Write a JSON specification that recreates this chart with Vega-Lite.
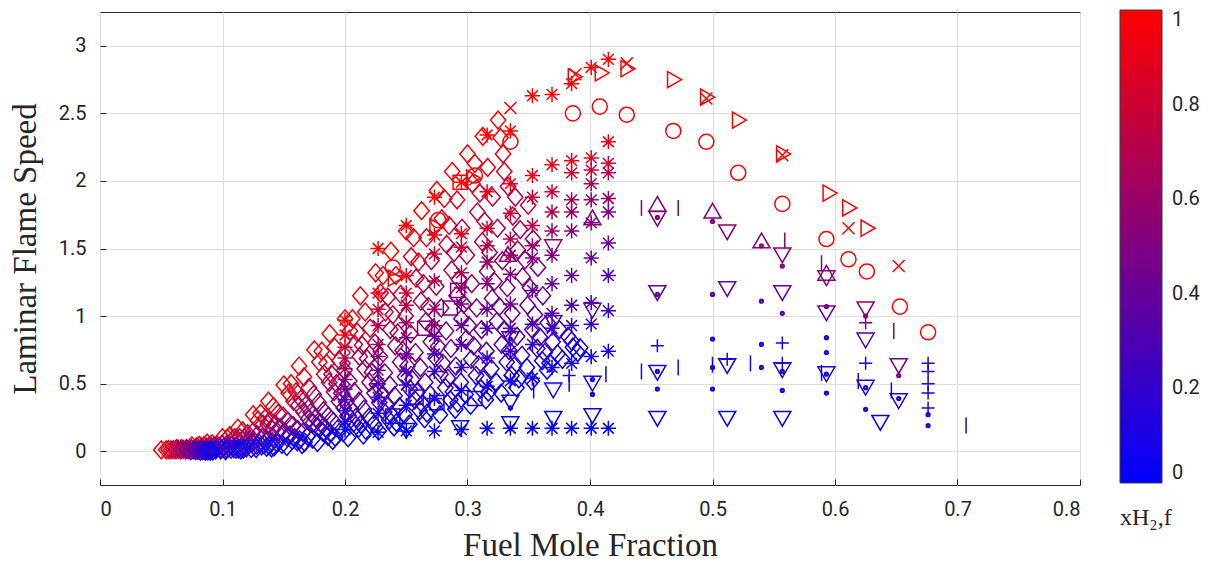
{
"$schema":"https://vega.github.io/schema/vega-lite/v6.json",
"width":980,"height":473,
"autosize":{"type":"none"},
"padding":{"left":100,"top":12,"right":133,"bottom":78},
"background":"white",
"config":{"view":{"stroke":"#262626","strokeWidth":1}},
"datasets":{
"dia":[
{"x":0.05,"y":0.01,"h":1},{"x":0.0625,"y":0.02,"h":1},{"x":0.075,"y":0.04,"h":1},{"x":0.0875,"y":0.06,"h":1},{"x":0.1,"y":0.1,"h":1},{"x":0.1125,"y":0.17,"h":1},{"x":0.125,"y":0.27,"h":1},{"x":0.1375,"y":0.37,"h":1},{"x":0.15,"y":0.49,"h":1},{"x":0.1625,"y":0.63,"h":1},{"x":0.175,"y":0.75,"h":1},{"x":0.1875,"y":0.87,"h":1},{"x":0.2,"y":0.98,"h":1},{"x":0.2125,"y":1.15,"h":1},{"x":0.225,"y":1.32,"h":1},{"x":0.2375,"y":1.48,"h":1},{"x":0.25,"y":1.63,"h":1},{"x":0.2625,"y":1.78,"h":1},{"x":0.275,"y":1.93,"h":1},{"x":0.2875,"y":2.07,"h":1},{"x":0.3,"y":2.2,"h":1},{"x":0.3125,"y":2.33,"h":1},{"x":0.325,"y":2.45,"h":1},
{"x":0.056,"y":0.012,"h":0.95},{"x":0.081,"y":0.044,"h":0.95},{"x":0.106,"y":0.115,"h":0.95},{"x":0.131,"y":0.28,"h":0.95},{"x":0.156,"y":0.5,"h":0.95},{"x":0.181,"y":0.74,"h":0.95},{"x":0.206,"y":0.98,"h":0.95},{"x":0.231,"y":1.3,"h":0.95},{"x":0.256,"y":1.58,"h":0.95},{"x":0.281,"y":1.87,"h":0.95},{"x":0.306,"y":2.13,"h":0.95},{"x":0.327,"y":2.32,"h":0.95},
{"x":0.054,"y":0.01,"h":0.9},{"x":0.0665,"y":0.02,"h":0.9},{"x":0.079,"y":0.035,"h":0.9},{"x":0.0915,"y":0.055,"h":0.9},{"x":0.104,"y":0.095,"h":0.9},{"x":0.1165,"y":0.15,"h":0.9},{"x":0.129,"y":0.23,"h":0.9},{"x":0.1415,"y":0.33,"h":0.9},{"x":0.154,"y":0.43,"h":0.9},{"x":0.1665,"y":0.55,"h":0.9},{"x":0.179,"y":0.66,"h":0.9},{"x":0.1915,"y":0.77,"h":0.9},{"x":0.204,"y":0.89,"h":0.9},{"x":0.2165,"y":1.03,"h":0.9},{"x":0.229,"y":1.17,"h":0.9},{"x":0.2415,"y":1.3,"h":0.9},{"x":0.254,"y":1.44,"h":0.9},{"x":0.2665,"y":1.58,"h":0.9},{"x":0.279,"y":1.72,"h":0.9},{"x":0.2915,"y":1.86,"h":0.9},{"x":0.304,"y":1.98,"h":0.9},{"x":0.3165,"y":2.1,"h":0.9},{"x":0.329,"y":2.2,"h":0.9},
{"x":0.06,"y":0.012,"h":0.85},{"x":0.085,"y":0.039,"h":0.85},{"x":0.11,"y":0.1,"h":0.85},{"x":0.135,"y":0.245,"h":0.85},{"x":0.16,"y":0.44,"h":0.85},{"x":0.185,"y":0.65,"h":0.85},{"x":0.21,"y":0.88,"h":0.85},{"x":0.235,"y":1.14,"h":0.85},{"x":0.26,"y":1.4,"h":0.85},{"x":0.285,"y":1.67,"h":0.85},{"x":0.31,"y":1.91,"h":0.85},{"x":0.33,"y":2.07,"h":0.85},
{"x":0.058,"y":0.01,"h":0.8},{"x":0.0705,"y":0.02,"h":0.8},{"x":0.083,"y":0.03,"h":0.8},{"x":0.0955,"y":0.045,"h":0.8},{"x":0.108,"y":0.08,"h":0.8},{"x":0.1205,"y":0.13,"h":0.8},{"x":0.133,"y":0.2,"h":0.8},{"x":0.1455,"y":0.28,"h":0.8},{"x":0.158,"y":0.37,"h":0.8},{"x":0.1705,"y":0.47,"h":0.8},{"x":0.183,"y":0.57,"h":0.8},{"x":0.1955,"y":0.67,"h":0.8},{"x":0.208,"y":0.79,"h":0.8},{"x":0.2205,"y":0.91,"h":0.8},{"x":0.233,"y":1.03,"h":0.8},{"x":0.2455,"y":1.16,"h":0.8},{"x":0.258,"y":1.28,"h":0.8},{"x":0.2705,"y":1.41,"h":0.8},{"x":0.283,"y":1.53,"h":0.8},{"x":0.2955,"y":1.65,"h":0.8},{"x":0.308,"y":1.77,"h":0.8},{"x":0.3205,"y":1.88,"h":0.8},{"x":0.333,"y":1.96,"h":0.8},
{"x":0.064,"y":0.013,"h":0.75},{"x":0.089,"y":0.035,"h":0.75},{"x":0.114,"y":0.1,"h":0.75},{"x":0.139,"y":0.225,"h":0.75},{"x":0.164,"y":0.385,"h":0.75},{"x":0.189,"y":0.57,"h":0.75},{"x":0.214,"y":0.785,"h":0.75},{"x":0.239,"y":1.01,"h":0.75},{"x":0.264,"y":1.24,"h":0.75},{"x":0.289,"y":1.47,"h":0.75},{"x":0.314,"y":1.7,"h":0.75},{"x":0.339,"y":1.88,"h":0.75},
{"x":0.062,"y":0.01,"h":0.7},{"x":0.0745,"y":0.02,"h":0.7},{"x":0.087,"y":0.03,"h":0.7},{"x":0.0995,"y":0.05,"h":0.7},{"x":0.112,"y":0.09,"h":0.7},{"x":0.1245,"y":0.14,"h":0.7},{"x":0.137,"y":0.2,"h":0.7},{"x":0.1495,"y":0.26,"h":0.7},{"x":0.162,"y":0.34,"h":0.7},{"x":0.1745,"y":0.42,"h":0.7},{"x":0.187,"y":0.51,"h":0.7},{"x":0.1995,"y":0.6,"h":0.7},{"x":0.212,"y":0.7,"h":0.7},{"x":0.2245,"y":0.8,"h":0.7},{"x":0.237,"y":0.9,"h":0.7},{"x":0.2495,"y":1.0,"h":0.7},{"x":0.262,"y":1.11,"h":0.7},{"x":0.2745,"y":1.22,"h":0.7},{"x":0.287,"y":1.34,"h":0.7},{"x":0.2995,"y":1.45,"h":0.7},{"x":0.312,"y":1.55,"h":0.7},{"x":0.3245,"y":1.65,"h":0.7},{"x":0.337,"y":1.74,"h":0.7},{"x":0.3495,"y":1.82,"h":0.7},
{"x":0.068,"y":0.013,"h":0.65},{"x":0.093,"y":0.036,"h":0.65},{"x":0.118,"y":0.1,"h":0.65},{"x":0.143,"y":0.2,"h":0.65},{"x":0.168,"y":0.34,"h":0.65},{"x":0.193,"y":0.5,"h":0.65},{"x":0.218,"y":0.685,"h":0.65},{"x":0.243,"y":0.875,"h":0.65},{"x":0.268,"y":1.07,"h":0.65},{"x":0.293,"y":1.27,"h":0.65},{"x":0.318,"y":1.47,"h":0.65},{"x":0.343,"y":1.64,"h":0.65},
{"x":0.066,"y":0.01,"h":0.6},{"x":0.0785,"y":0.02,"h":0.6},{"x":0.091,"y":0.03,"h":0.6},{"x":0.1035,"y":0.05,"h":0.6},{"x":0.116,"y":0.08,"h":0.6},{"x":0.1285,"y":0.12,"h":0.6},{"x":0.141,"y":0.16,"h":0.6},{"x":0.1535,"y":0.22,"h":0.6},{"x":0.166,"y":0.29,"h":0.6},{"x":0.1785,"y":0.36,"h":0.6},{"x":0.191,"y":0.44,"h":0.6},{"x":0.2035,"y":0.52,"h":0.6},{"x":0.216,"y":0.61,"h":0.6},{"x":0.2285,"y":0.7,"h":0.6},{"x":0.241,"y":0.78,"h":0.6},{"x":0.2535,"y":0.87,"h":0.6},{"x":0.266,"y":0.96,"h":0.6},{"x":0.2785,"y":1.06,"h":0.6},{"x":0.291,"y":1.15,"h":0.6},{"x":0.3035,"y":1.24,"h":0.6},{"x":0.316,"y":1.33,"h":0.6},{"x":0.3285,"y":1.41,"h":0.6},{"x":0.341,"y":1.49,"h":0.6},{"x":0.3535,"y":1.57,"h":0.6},
{"x":0.072,"y":0.012,"h":0.55},{"x":0.097,"y":0.035,"h":0.55},{"x":0.122,"y":0.088,"h":0.55},{"x":0.147,"y":0.175,"h":0.55},{"x":0.172,"y":0.285,"h":0.55},{"x":0.197,"y":0.43,"h":0.55},{"x":0.222,"y":0.585,"h":0.55},{"x":0.247,"y":0.745,"h":0.55},{"x":0.272,"y":0.91,"h":0.55},{"x":0.297,"y":1.09,"h":0.55},{"x":0.322,"y":1.255,"h":0.55},{"x":0.347,"y":1.415,"h":0.55},
{"x":0.07,"y":0.01,"h":0.5},{"x":0.0825,"y":0.015,"h":0.5},{"x":0.095,"y":0.025,"h":0.5},{"x":0.1075,"y":0.045,"h":0.5},{"x":0.12,"y":0.07,"h":0.5},{"x":0.1325,"y":0.1,"h":0.5},{"x":0.145,"y":0.14,"h":0.5},{"x":0.1575,"y":0.19,"h":0.5},{"x":0.17,"y":0.24,"h":0.5},{"x":0.1825,"y":0.3,"h":0.5},{"x":0.195,"y":0.37,"h":0.5},{"x":0.2075,"y":0.44,"h":0.5},{"x":0.22,"y":0.51,"h":0.5},{"x":0.2325,"y":0.58,"h":0.5},{"x":0.245,"y":0.66,"h":0.5},{"x":0.2575,"y":0.73,"h":0.5},{"x":0.27,"y":0.81,"h":0.5},{"x":0.2825,"y":0.89,"h":0.5},{"x":0.295,"y":0.98,"h":0.5},{"x":0.3075,"y":1.06,"h":0.5},{"x":0.32,"y":1.13,"h":0.5},{"x":0.3325,"y":1.21,"h":0.5},{"x":0.345,"y":1.29,"h":0.5},{"x":0.3575,"y":1.36,"h":0.5},
{"x":0.076,"y":0.009,"h":0.45},{"x":0.101,"y":0.028,"h":0.45},{"x":0.126,"y":0.074,"h":0.45},{"x":0.151,"y":0.14,"h":0.45},{"x":0.176,"y":0.245,"h":0.45},{"x":0.201,"y":0.365,"h":0.45},{"x":0.226,"y":0.495,"h":0.45},{"x":0.251,"y":0.63,"h":0.45},{"x":0.276,"y":0.775,"h":0.45},{"x":0.301,"y":0.93,"h":0.45},{"x":0.326,"y":1.07,"h":0.45},{"x":0.351,"y":1.21,"h":0.45},
{"x":0.074,"y":0.005,"h":0.4},{"x":0.0865,"y":0.01,"h":0.4},{"x":0.099,"y":0.02,"h":0.4},{"x":0.1115,"y":0.035,"h":0.4},{"x":0.124,"y":0.06,"h":0.4},{"x":0.1365,"y":0.085,"h":0.4},{"x":0.149,"y":0.12,"h":0.4},{"x":0.1615,"y":0.16,"h":0.4},{"x":0.174,"y":0.21,"h":0.4},{"x":0.1865,"y":0.26,"h":0.4},{"x":0.199,"y":0.32,"h":0.4},{"x":0.2115,"y":0.37,"h":0.4},{"x":0.224,"y":0.43,"h":0.4},{"x":0.2365,"y":0.49,"h":0.4},{"x":0.249,"y":0.55,"h":0.4},{"x":0.2615,"y":0.62,"h":0.4},{"x":0.274,"y":0.69,"h":0.4},{"x":0.2865,"y":0.76,"h":0.4},{"x":0.299,"y":0.83,"h":0.4},{"x":0.3115,"y":0.9,"h":0.4},{"x":0.324,"y":0.96,"h":0.4},{"x":0.3365,"y":1.02,"h":0.4},{"x":0.349,"y":1.08,"h":0.4},{"x":0.3615,"y":1.15,"h":0.4},
{"x":0.08,"y":0.006,"h":0.35},{"x":0.105,"y":0.024,"h":0.35},{"x":0.13,"y":0.06,"h":0.35},{"x":0.155,"y":0.12,"h":0.35},{"x":0.18,"y":0.21,"h":0.35},{"x":0.205,"y":0.31,"h":0.35},{"x":0.23,"y":0.415,"h":0.35},{"x":0.255,"y":0.53,"h":0.35},{"x":0.28,"y":0.65,"h":0.35},{"x":0.305,"y":0.78,"h":0.35},{"x":0.33,"y":0.9,"h":0.35},{"x":0.355,"y":1.01,"h":0.35},
{"x":0.078,"y":0.005,"h":0.3},{"x":0.0905,"y":0.01,"h":0.3},{"x":0.103,"y":0.02,"h":0.3},{"x":0.1155,"y":0.03,"h":0.3},{"x":0.128,"y":0.045,"h":0.3},{"x":0.1405,"y":0.07,"h":0.3},{"x":0.153,"y":0.1,"h":0.3},{"x":0.1655,"y":0.14,"h":0.3},{"x":0.178,"y":0.18,"h":0.3},{"x":0.1905,"y":0.22,"h":0.3},{"x":0.203,"y":0.26,"h":0.3},{"x":0.2155,"y":0.31,"h":0.3},{"x":0.228,"y":0.36,"h":0.3},{"x":0.2405,"y":0.41,"h":0.3},{"x":0.253,"y":0.46,"h":0.3},{"x":0.2655,"y":0.51,"h":0.3},{"x":0.278,"y":0.57,"h":0.3},{"x":0.2905,"y":0.63,"h":0.3},{"x":0.303,"y":0.68,"h":0.3},{"x":0.3155,"y":0.74,"h":0.3},{"x":0.328,"y":0.79,"h":0.3},{"x":0.3405,"y":0.85,"h":0.3},{"x":0.353,"y":0.9,"h":0.3},{"x":0.3655,"y":0.95,"h":0.3},
{"x":0.084,"y":0.005,"h":0.25},{"x":0.109,"y":0.02,"h":0.25},{"x":0.134,"y":0.05,"h":0.25},{"x":0.159,"y":0.1,"h":0.25},{"x":0.184,"y":0.17,"h":0.25},{"x":0.209,"y":0.25,"h":0.25},{"x":0.234,"y":0.34,"h":0.25},{"x":0.259,"y":0.435,"h":0.25},{"x":0.284,"y":0.54,"h":0.25},{"x":0.309,"y":0.64,"h":0.25},{"x":0.334,"y":0.745,"h":0.25},{"x":0.359,"y":0.845,"h":0.25},{"x":0.375,"y":0.9,"h":0.25},
{"x":0.082,"y":0.0,"h":0.2},{"x":0.0945,"y":0.01,"h":0.2},{"x":0.107,"y":0.015,"h":0.2},{"x":0.1195,"y":0.025,"h":0.2},{"x":0.132,"y":0.04,"h":0.2},{"x":0.1445,"y":0.06,"h":0.2},{"x":0.157,"y":0.08,"h":0.2},{"x":0.1695,"y":0.11,"h":0.2},{"x":0.182,"y":0.14,"h":0.2},{"x":0.1945,"y":0.17,"h":0.2},{"x":0.207,"y":0.21,"h":0.2},{"x":0.2195,"y":0.25,"h":0.2},{"x":0.232,"y":0.29,"h":0.2},{"x":0.2445,"y":0.33,"h":0.2},{"x":0.257,"y":0.38,"h":0.2},{"x":0.2695,"y":0.42,"h":0.2},{"x":0.282,"y":0.47,"h":0.2},{"x":0.2945,"y":0.51,"h":0.2},{"x":0.307,"y":0.56,"h":0.2},{"x":0.3195,"y":0.61,"h":0.2},{"x":0.332,"y":0.66,"h":0.2},{"x":0.3445,"y":0.71,"h":0.2},{"x":0.357,"y":0.76,"h":0.2},{"x":0.3695,"y":0.81,"h":0.2},{"x":0.382,"y":0.85,"h":0.2},
{"x":0.088,"y":0.003,"h":0.15},{"x":0.113,"y":0.017,"h":0.15},{"x":0.138,"y":0.042,"h":0.15},{"x":0.163,"y":0.084,"h":0.15},{"x":0.188,"y":0.135,"h":0.15},{"x":0.213,"y":0.2,"h":0.15},{"x":0.238,"y":0.27,"h":0.15},{"x":0.263,"y":0.35,"h":0.15},{"x":0.288,"y":0.44,"h":0.15},{"x":0.313,"y":0.53,"h":0.15},{"x":0.338,"y":0.63,"h":0.15},{"x":0.363,"y":0.73,"h":0.15},{"x":0.385,"y":0.815,"h":0.15},
{"x":0.086,"y":0.0,"h":0.1},{"x":0.0985,"y":0.01,"h":0.1},{"x":0.111,"y":0.015,"h":0.1},{"x":0.1235,"y":0.02,"h":0.1},{"x":0.136,"y":0.03,"h":0.1},{"x":0.1485,"y":0.05,"h":0.1},{"x":0.161,"y":0.07,"h":0.1},{"x":0.1735,"y":0.09,"h":0.1},{"x":0.186,"y":0.11,"h":0.1},{"x":0.1985,"y":0.14,"h":0.1},{"x":0.211,"y":0.17,"h":0.1},{"x":0.2235,"y":0.2,"h":0.1},{"x":0.236,"y":0.23,"h":0.1},{"x":0.2485,"y":0.27,"h":0.1},{"x":0.261,"y":0.3,"h":0.1},{"x":0.2735,"y":0.34,"h":0.1},{"x":0.286,"y":0.38,"h":0.1},{"x":0.2985,"y":0.42,"h":0.1},{"x":0.311,"y":0.46,"h":0.1},{"x":0.3235,"y":0.51,"h":0.1},{"x":0.336,"y":0.56,"h":0.1},{"x":0.3485,"y":0.62,"h":0.1},{"x":0.361,"y":0.67,"h":0.1},{"x":0.3735,"y":0.72,"h":0.1},{"x":0.386,"y":0.77,"h":0.1},
{"x":0.092,"y":0.002,"h":0.05},{"x":0.117,"y":0.015,"h":0.05},{"x":0.142,"y":0.032,"h":0.05},{"x":0.167,"y":0.066,"h":0.05},{"x":0.192,"y":0.104,"h":0.05},{"x":0.217,"y":0.155,"h":0.05},{"x":0.242,"y":0.212,"h":0.05},{"x":0.267,"y":0.282,"h":0.05},{"x":0.292,"y":0.357,"h":0.05},{"x":0.317,"y":0.437,"h":0.05},{"x":0.342,"y":0.535,"h":0.05},{"x":0.367,"y":0.652,"h":0.05},{"x":0.392,"y":0.765,"h":0.05},
{"x":0.09,"y":0.0,"h":0},{"x":0.1025,"y":0.005,"h":0},{"x":0.115,"y":0.01,"h":0},{"x":0.1275,"y":0.02,"h":0},{"x":0.14,"y":0.025,"h":0},{"x":0.1525,"y":0.035,"h":0},{"x":0.165,"y":0.05,"h":0},{"x":0.1775,"y":0.065,"h":0},{"x":0.19,"y":0.08,"h":0},{"x":0.2025,"y":0.1,"h":0},{"x":0.215,"y":0.12,"h":0},{"x":0.2275,"y":0.15,"h":0},{"x":0.24,"y":0.18,"h":0},{"x":0.2525,"y":0.2,"h":0},{"x":0.265,"y":0.24,"h":0},{"x":0.2775,"y":0.27,"h":0},{"x":0.29,"y":0.31,"h":0},{"x":0.3025,"y":0.34,"h":0},{"x":0.315,"y":0.38,"h":0},{"x":0.3275,"y":0.43,"h":0},{"x":0.34,"y":0.47,"h":0},{"x":0.3525,"y":0.52,"h":0},{"x":0.365,"y":0.6,"h":0},{"x":0.3775,"y":0.68,"h":0},{"x":0.39,"y":0.73,"h":0}
],
"ast":[
{"x":0.2,"y":0.16,"h":0},{"x":0.2,"y":0.22,"h":0.1},{"x":0.2,"y":0.3,"h":0.2},{"x":0.2,"y":0.38,"h":0.3},{"x":0.2,"y":0.46,"h":0.4},{"x":0.2,"y":0.53,"h":0.5},{"x":0.2,"y":0.61,"h":0.6},{"x":0.2,"y":0.69,"h":0.7},{"x":0.2,"y":0.77,"h":0.8},{"x":0.2,"y":0.86,"h":0.9},{"x":0.2,"y":0.97,"h":1},
{"x":0.227,"y":0.14,"h":0},{"x":0.227,"y":0.28,"h":0.1},{"x":0.227,"y":0.4,"h":0.2},{"x":0.227,"y":0.5,"h":0.3},{"x":0.227,"y":0.6,"h":0.4},{"x":0.227,"y":0.7,"h":0.5},{"x":0.227,"y":0.79,"h":0.6},{"x":0.227,"y":0.93,"h":0.7},{"x":0.227,"y":1.05,"h":0.8},{"x":0.227,"y":1.17,"h":0.9},{"x":0.227,"y":1.5,"h":1},
{"x":0.25,"y":0.15,"h":0},{"x":0.25,"y":0.34,"h":0.1},{"x":0.25,"y":0.49,"h":0.2},{"x":0.25,"y":0.59,"h":0.3},{"x":0.25,"y":0.72,"h":0.4},{"x":0.25,"y":0.84,"h":0.5},{"x":0.25,"y":0.95,"h":0.6},{"x":0.25,"y":1.08,"h":0.7},{"x":0.25,"y":1.17,"h":0.8},{"x":0.25,"y":1.3,"h":0.9},{"x":0.25,"y":1.67,"h":1},
{"x":0.273,"y":0.15,"h":0},{"x":0.273,"y":0.39,"h":0.1},{"x":0.273,"y":0.59,"h":0.2},{"x":0.273,"y":0.72,"h":0.3},{"x":0.273,"y":0.85,"h":0.4},{"x":0.273,"y":0.93,"h":0.5},{"x":0.273,"y":1.05,"h":0.6},{"x":0.273,"y":1.26,"h":0.7},{"x":0.273,"y":1.46,"h":0.8},{"x":0.273,"y":1.6,"h":0.9},{"x":0.273,"y":1.88,"h":1},
{"x":0.295,"y":0.16,"h":0},{"x":0.295,"y":0.45,"h":0.1},{"x":0.295,"y":0.62,"h":0.2},{"x":0.295,"y":0.79,"h":0.3},{"x":0.295,"y":0.93,"h":0.4},{"x":0.295,"y":1.09,"h":0.5},{"x":0.295,"y":1.21,"h":0.6},{"x":0.295,"y":1.32,"h":0.7},{"x":0.295,"y":1.51,"h":0.8},{"x":0.295,"y":1.61,"h":0.9},{"x":0.295,"y":1.99,"h":1},
{"x":0.316,"y":0.17,"h":0},{"x":0.316,"y":0.48,"h":0.1},{"x":0.316,"y":0.69,"h":0.2},{"x":0.316,"y":0.91,"h":0.3},{"x":0.316,"y":1.05,"h":0.4},{"x":0.316,"y":1.24,"h":0.5},{"x":0.316,"y":1.4,"h":0.6},{"x":0.316,"y":1.52,"h":0.7},{"x":0.316,"y":1.65,"h":0.8},{"x":0.316,"y":1.92,"h":0.9},{"x":0.316,"y":2.34,"h":1},
{"x":0.335,"y":0.17,"h":0},{"x":0.335,"y":0.52,"h":0.1},{"x":0.335,"y":0.74,"h":0.2},{"x":0.335,"y":0.91,"h":0.3},{"x":0.335,"y":1.09,"h":0.4},{"x":0.335,"y":1.31,"h":0.5},{"x":0.335,"y":1.45,"h":0.6},{"x":0.335,"y":1.57,"h":0.7},{"x":0.335,"y":1.76,"h":0.8},{"x":0.335,"y":1.98,"h":0.9},{"x":0.335,"y":2.37,"h":1},
{"x":0.353,"y":0.17,"h":0},{"x":0.353,"y":0.54,"h":0.1},{"x":0.353,"y":0.79,"h":0.2},{"x":0.353,"y":0.94,"h":0.3},{"x":0.353,"y":1.19,"h":0.4},{"x":0.353,"y":1.43,"h":0.5},{"x":0.353,"y":1.52,"h":0.6},{"x":0.353,"y":1.67,"h":0.7},{"x":0.353,"y":1.88,"h":0.8},{"x":0.353,"y":2.04,"h":0.9},{"x":0.353,"y":2.63,"h":1},
{"x":0.369,"y":0.17,"h":0},{"x":0.369,"y":0.62,"h":0.1},{"x":0.369,"y":0.91,"h":0.2},{"x":0.369,"y":1.02,"h":0.3},{"x":0.369,"y":1.24,"h":0.4},{"x":0.369,"y":1.45,"h":0.5},{"x":0.369,"y":1.63,"h":0.6},{"x":0.369,"y":1.77,"h":0.7},{"x":0.369,"y":1.92,"h":0.8},{"x":0.369,"y":2.12,"h":0.9},{"x":0.369,"y":2.64,"h":1},
{"x":0.385,"y":0.17,"h":0},{"x":0.385,"y":0.65,"h":0.1},{"x":0.385,"y":0.93,"h":0.2},{"x":0.385,"y":1.08,"h":0.3},{"x":0.385,"y":1.3,"h":0.4},{"x":0.385,"y":1.63,"h":0.5},{"x":0.385,"y":1.77,"h":0.6},{"x":0.385,"y":1.86,"h":0.7},{"x":0.385,"y":2.06,"h":0.8},{"x":0.385,"y":2.15,"h":0.9},{"x":0.385,"y":2.72,"h":1},
{"x":0.401,"y":0.17,"h":0},{"x":0.401,"y":0.7,"h":0.1},{"x":0.401,"y":0.94,"h":0.2},{"x":0.401,"y":1.1,"h":0.3},{"x":0.401,"y":1.43,"h":0.4},{"x":0.401,"y":1.69,"h":0.5},{"x":0.401,"y":1.86,"h":0.6},{"x":0.401,"y":1.98,"h":0.7},{"x":0.401,"y":2.08,"h":0.8},{"x":0.401,"y":2.17,"h":0.9},{"x":0.401,"y":2.84,"h":1},
{"x":0.415,"y":0.17,"h":0},{"x":0.415,"y":0.74,"h":0.1},{"x":0.415,"y":1.04,"h":0.2},{"x":0.415,"y":1.3,"h":0.3},{"x":0.415,"y":1.54,"h":0.4},{"x":0.415,"y":1.77,"h":0.5},{"x":0.415,"y":1.87,"h":0.6},{"x":0.415,"y":2.06,"h":0.7},{"x":0.415,"y":2.13,"h":0.8},{"x":0.415,"y":2.29,"h":0.9},{"x":0.415,"y":2.9,"h":1}
],
"cir":[
{"x":0.239,"y":1.36,"h":1},{"x":0.276,"y":1.71,"h":1},{"x":0.306,"y":2.04,"h":1},{"x":0.335,"y":2.29,"h":1},{"x":0.386,"y":2.5,"h":1},{"x":0.408,"y":2.55,"h":1},{"x":0.43,"y":2.49,"h":1},{"x":0.468,"y":2.37,"h":1},{"x":0.495,"y":2.29,"h":1},{"x":0.521,"y":2.06,"h":1},{"x":0.557,"y":1.83,"h":1},{"x":0.593,"y":1.57,"h":1},{"x":0.611,"y":1.42,"h":1},{"x":0.626,"y":1.33,"h":1},{"x":0.653,"y":1.07,"h":1},{"x":0.676,"y":0.88,"h":1}
],
"sq":[
{"x":0.294,"y":1.99,"h":1},{"x":0.292,"y":1.19,"h":0.5},{"x":0.286,"y":1.06,"h":0.45},{"x":0.265,"y":0.91,"h":0.5},{"x":0.275,"y":0.36,"h":0.1},{"x":0.258,"y":0.4,"h":0.15},{"x":0.239,"y":0.26,"h":0.1},{"x":0.306,"y":0.39,"h":0.1}
],
"trr":[
{"x":0.241,"y":1.28,"h":1},{"x":0.275,"y":1.66,"h":1},{"x":0.305,"y":2.02,"h":1},{"x":0.388,"y":2.77,"h":1},{"x":0.41,"y":2.8,"h":1},{"x":0.431,"y":2.83,"h":1},{"x":0.469,"y":2.75,"h":1},{"x":0.496,"y":2.62,"h":1},{"x":0.522,"y":2.45,"h":1},{"x":0.558,"y":2.2,"h":1},{"x":0.596,"y":1.91,"h":1},{"x":0.612,"y":1.8,"h":1},{"x":0.627,"y":1.65,"h":1}
],
"xx":[
{"x":0.335,"y":2.54,"h":1},{"x":0.388,"y":2.79,"h":1},{"x":0.43,"y":2.87,"h":1},{"x":0.495,"y":2.61,"h":1},{"x":0.557,"y":2.19,"h":1},{"x":0.611,"y":1.65,"h":1},{"x":0.652,"y":1.37,"h":1}
],
"tru":[
{"x":0.333,"y":1.46,"h":0.52},{"x":0.402,"y":1.73,"h":0.52},{"x":0.455,"y":1.83,"h":0.52},{"x":0.5,"y":1.78,"h":0.52},{"x":0.54,"y":1.56,"h":0.52},{"x":0.593,"y":1.32,"h":0.52}
],
"trd":[
{"x":0.37,"y":1.51,"h":0.52},{"x":0.455,"y":1.72,"h":0.52},{"x":0.512,"y":1.62,"h":0.52},{"x":0.557,"y":1.45,"h":0.52},{"x":0.593,"y":1.28,"h":0.52},{"x":0.625,"y":1.05,"h":0.58},
{"x":0.335,"y":0.83,"h":0.3},{"x":0.37,"y":0.95,"h":0.35},{"x":0.402,"y":1.04,"h":0.35},{"x":0.455,"y":1.17,"h":0.38},{"x":0.512,"y":1.2,"h":0.38},{"x":0.557,"y":1.17,"h":0.38},{"x":0.593,"y":1.02,"h":0.42},{"x":0.625,"y":0.82,"h":0.32},{"x":0.652,"y":0.63,"h":0.45},
{"x":0.335,"y":0.36,"h":0.08},{"x":0.37,"y":0.45,"h":0.08},{"x":0.402,"y":0.5,"h":0.08},{"x":0.455,"y":0.58,"h":0.1},{"x":0.512,"y":0.63,"h":0.1},{"x":0.557,"y":0.6,"h":0.1},{"x":0.593,"y":0.57,"h":0.12},{"x":0.625,"y":0.47,"h":0.1},{"x":0.652,"y":0.37,"h":0.1},
{"x":0.25,"y":0.15,"h":0},{"x":0.294,"y":0.17,"h":0},{"x":0.335,"y":0.2,"h":0},{"x":0.37,"y":0.24,"h":0},{"x":0.402,"y":0.26,"h":0},{"x":0.455,"y":0.24,"h":0},{"x":0.512,"y":0.24,"h":0},{"x":0.557,"y":0.24,"h":0},{"x":0.637,"y":0.21,"h":0}
],
"pls":[
{"x":0.383,"y":0.56,"h":0.1},{"x":0.455,"y":0.78,"h":0.1},{"x":0.512,"y":0.68,"h":0.1},{"x":0.557,"y":0.8,"h":0.1},{"x":0.557,"y":0.65,"h":0.1},{"x":0.625,"y":0.65,"h":0.1},{"x":0.625,"y":0.95,"h":0.5},{"x":0.676,"y":0.65,"h":0.12},{"x":0.676,"y":0.59,"h":0.12},{"x":0.676,"y":0.5,"h":0.12},{"x":0.676,"y":0.43,"h":0.12},{"x":0.676,"y":0.32,"h":0.12}
],
"bar":[
{"x":0.442,"y":0.59,"h":0.1},{"x":0.472,"y":0.62,"h":0.1},{"x":0.5,"y":0.64,"h":0.1},{"x":0.531,"y":0.65,"h":0.1},{"x":0.442,"y":1.8,"h":0.52},{"x":0.472,"y":1.8,"h":0.52},{"x":0.559,"y":1.56,"h":0.52},{"x":0.589,"y":1.39,"h":0.52},{"x":0.648,"y":0.89,"h":0.55},{"x":0.707,"y":0.19,"h":0.05},{"x":0.354,"y":0.45,"h":0.05},{"x":0.383,"y":0.5,"h":0.05},{"x":0.413,"y":0.57,"h":0.05},{"x":0.646,"y":0.45,"h":0.1},{"x":0.589,"y":0.58,"h":0.1},{"x":0.619,"y":0.52,"h":0.1}
],
"dot":[
{"x":0.455,"y":1.16,"h":0.4},{"x":0.5,"y":1.16,"h":0.35},{"x":0.54,"y":1.11,"h":0.35},{"x":0.557,"y":1.02,"h":0.35},{"x":0.593,"y":1.07,"h":0.45},{"x":0.625,"y":1.0,"h":0.55},
{"x":0.5,"y":0.83,"h":0.1},{"x":0.54,"y":0.79,"h":0.1},{"x":0.593,"y":0.84,"h":0.1},{"x":0.593,"y":0.73,"h":0.1},{"x":0.5,"y":0.62,"h":0.1},{"x":0.54,"y":0.62,"h":0.1},{"x":0.455,"y":0.59,"h":0.1},{"x":0.557,"y":0.59,"h":0.1},{"x":0.593,"y":0.57,"h":0.1},{"x":0.625,"y":0.47,"h":0.1},{"x":0.652,"y":0.39,"h":0.1},{"x":0.676,"y":0.27,"h":0.1},
{"x":0.455,"y":0.46,"h":0.1},{"x":0.5,"y":0.46,"h":0.1},{"x":0.557,"y":0.45,"h":0.1},{"x":0.593,"y":0.43,"h":0.1},{"x":0.625,"y":0.31,"h":0.1},{"x":0.676,"y":0.19,"h":0.1},{"x":0.652,"y":0.56,"h":0.45},
{"x":0.455,"y":1.73,"h":0.52},{"x":0.5,"y":1.7,"h":0.52},{"x":0.54,"y":1.52,"h":0.52},{"x":0.557,"y":1.37,"h":0.52},
{"x":0.335,"y":0.83,"h":0.15},{"x":0.335,"y":0.32,"h":0.05},{"x":0.402,"y":0.42,"h":0.05},{"x":0.402,"y":0.53,"h":0.05}
]
},
"encoding":{
"x":{"field":"x","type":"quantitative","scale":{"domain":[0,0.8],"nice":false,"zero":false},
 "axis":{"values":[0,0.1,0.2,0.3,0.4,0.5,0.6,0.7,0.8],"labelExpr":"''+datum.value","title":"Fuel Mole Fraction","titleFont":"Liberation Serif","titleFontSize":33,"titleFontWeight":"normal","titleColor":"#262626","labelFont":"Roboto","labelFontSize":20,"labelColor":"#262626","gridColor":"#dedede","domain":false,"ticks":true,"tickSize":-6,"tickColor":"#262626","labelPadding":20,"titlePadding":10}},
"y":{"field":"y","type":"quantitative","scale":{"domain":[-0.25,3.25],"nice":false,"zero":false},
 "axis":{"values":[0,0.5,1,1.5,2,2.5,3],"labelExpr":"''+datum.value","title":"Laminar Flame Speed","titleFont":"Liberation Serif","titleFontSize":33,"titleFontWeight":"normal","titleColor":"#262626","labelFont":"Roboto","labelFontSize":20,"labelColor":"#262626","gridColor":"#dedede","domain":false,"ticks":true,"tickSize":-6,"tickColor":"#262626","labelPadding":20,"titlePadding":16}},
"color":{"field":"h","type":"quantitative","scale":{"domain":[0,1],"range":["#0000ff","#ff0000"],"interpolate":"rgb"},
 "legend":{"type":"gradient","title":"xH₂,f","orient":"none","legendX":1020,"legendY":-2,"direction":"vertical","gradientLength":473,"gradientThickness":42,"values":[0,0.2,0.4,0.6,0.8,1],"labelExpr":"''+datum.value","labelBaseline":"middle","titleOrient":"bottom","titleFont":"Liberation Serif","titleFontSize":24,"titleFontWeight":"normal","titleColor":"#262626","labelFont":"Roboto","labelFontSize":20,"labelColor":"#262626","labelOffset":10,"gradientStrokeColor":"#3c3c3c","gradientStrokeWidth":1,"titlePadding":22,"padding":0}}
},
"layer":[
{"data":{"name":"dia"},"mark":{"type":"point","shape":"M0,-1.05L0.9,0L0,1.05L-0.9,0Z","size":290,"filled":false,"strokeWidth":1.5,"opacity":1}},
{"data":{"name":"ast"},"mark":{"type":"point","shape":"M-1,0L1,0M0,-1L0,1M-0.71,-0.71L0.71,0.71M-0.71,0.71L0.71,-0.71","size":230,"filled":false,"strokeWidth":1.5,"opacity":1}},
{"data":{"name":"sq"},"mark":{"type":"point","shape":"square","size":200,"filled":false,"strokeWidth":1.5,"opacity":1}},
{"data":{"name":"cir"},"mark":{"type":"point","shape":"circle","size":227,"filled":false,"strokeWidth":1.5,"opacity":1}},
{"data":{"name":"trr"},"mark":{"type":"point","shape":"triangle-right","size":260,"filled":false,"strokeWidth":1.5,"opacity":1}},
{"data":{"name":"xx"},"mark":{"type":"point","shape":"M-1,-1L1,1M-1,1L1,-1","size":144,"filled":false,"strokeWidth":1.5,"opacity":1}},
{"data":{"name":"tru"},"mark":{"type":"point","shape":"triangle-up","size":290,"filled":false,"strokeWidth":1.5,"opacity":1}},
{"data":{"name":"trd"},"mark":{"type":"point","shape":"triangle-down","size":290,"filled":false,"strokeWidth":1.5,"opacity":1}},
{"data":{"name":"pls"},"mark":{"type":"point","shape":"M-1,0L1,0M0,-1L0,1","size":169,"filled":false,"strokeWidth":1.5,"opacity":1}},
{"data":{"name":"bar"},"mark":{"type":"point","shape":"M0,-1L0,1","size":256,"filled":false,"strokeWidth":1.5,"opacity":1}},
{"data":{"name":"dot"},"mark":{"type":"point","shape":"circle","size":5,"filled":false,"strokeWidth":3,"opacity":1}}
]
}
